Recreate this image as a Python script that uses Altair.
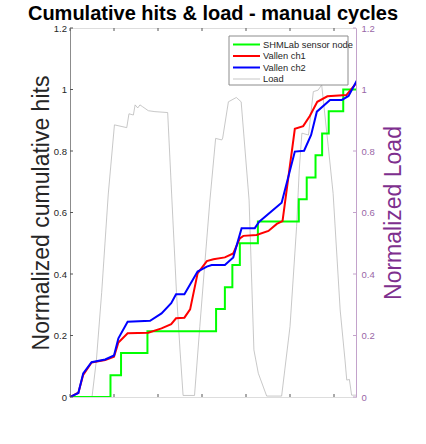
import altair as alt
import pandas as pd

# Cumulative hit counts (normalised) for each acquisition channel
green_t = [1100, 1192, 1216, 1276, 1432, 1452, 1469, 1486, 1527, 1620, 1638, 1658, 1673, 1688, 1721, 1750]
green_v = [0, 0.071, 0.143, 0.214, 0.286, 0.357, 0.429, 0.5, 0.571, 0.643, 0.714, 0.786, 0.857, 0.929, 1.0, 1.0]

red_t = [1100, 1119, 1130, 1149, 1180, 1200, 1210, 1231, 1278, 1308, 1330, 1341, 1360, 1373, 1390, 1411,
         1426, 1452, 1471, 1486, 1494, 1524, 1551, 1570, 1583, 1611, 1630, 1645, 1662, 1685, 1728, 1752]
red_v = [0, 0.014, 0.072, 0.112, 0.120, 0.131, 0.177, 0.207, 0.209, 0.223, 0.237, 0.256, 0.258, 0.285, 0.402, 0.442,
         0.448, 0.454, 0.467, 0.516, 0.524, 0.527, 0.540, 0.563, 0.572, 0.872, 0.881, 0.914, 0.960, 0.978, 0.982, 1.023]

blue_t = [1100, 1119, 1130, 1149, 1180, 1200, 1210, 1231, 1282, 1308, 1330, 1341, 1360, 1390, 1411,
          1422, 1452, 1471, 1490, 1520, 1530, 1581, 1611, 1632, 1648, 1661, 1691, 1718, 1733, 1752]
blue_v = [0, 0.013, 0.077, 0.113, 0.122, 0.135, 0.191, 0.245, 0.248, 0.272, 0.305, 0.334, 0.334, 0.408, 0.424,
          0.429, 0.429, 0.454, 0.549, 0.549, 0.570, 0.632, 0.798, 0.801, 0.852, 0.928, 0.966, 0.966, 0.979, 1.029]

# Normalised load signal (three manual cycles)
load_t = [1100, 1150, 1160, 1172, 1187, 1201, 1229, 1234, 1244, 1248, 1254, 1259, 1265, 1278, 1293, 1322,
          1331, 1342, 1350, 1357, 1383, 1395, 1407, 1418, 1431, 1445, 1447, 1460, 1478, 1489, 1507, 1518,
          1528, 1547, 1581, 1600, 1615, 1621, 1627, 1642, 1653, 1664, 1672, 1687, 1698, 1714, 1725, 1729,
          1735, 1740, 1750]
load_v = [0, 0, 0.12, 0.34, 0.66, 0.885, 0.876, 0.921, 0.917, 0.950, 0.940, 0.950, 0.944, 0.931, 0.928, 0.925,
          0.66, 0.34, 0.153, 0.005, 0.005, 0.229, 0.445, 0.64, 0.841, 0.836, 0.842, 0.960, 0.974, 0.960, 0.64, 0.153,
          0.077, 0.003, 0.003, 0.229, 0.554, 0.738, 0.858, 0.852, 0.993, 0.998, 1.015, 0.814, 0.662, 0.283, 0.12, 0.055,
          0.057, 0.006, 0.006]

x_ticks = [1100, 1200, 1300, 1400, 1500, 1600, 1700]
y_ticks = [0, 0.2, 0.4, 0.6, 0.8, 1.0, 1.2]

series_names = ["SHMLab sensor node", "Vallen ch1", "Vallen ch2", "Load"]
series_colors = ["#00FF00", "#FF0000", "#0000FF", "#B0B0B0"]
series_widths = [2, 2, 2, 0.7]
chart_title = "Cumulative hits & load - manual cycles"

FONT = "Liberation Sans"
TXT = "#262626"
PURPLE = "#7E2F8E"
PURPLE_LIGHT = "#C3A2CB"
PURPLE_LABEL = "#9966A6"
W, H = 286, 369


def frame(t, v, name):
    return pd.DataFrame({"t": t, "v": v, "series": name})


x_scale = alt.Scale(domain=[1100, 1750], nice=False, zero=False)
y_scale = alt.Scale(domain=[0, 1.2], nice=False, zero=False)

color = alt.Color("series:N", scale=alt.Scale(domain=series_names, range=series_colors), legend=None)
swidth = alt.StrokeWidth("series:N", scale=alt.Scale(type="ordinal", domain=series_names, range=series_widths),
                         legend=None)

x_axis = alt.Axis(
    title="Time [s]", values=x_ticks, format="d", grid=False, ticks=False, tickSize=0,
    labelFont=FONT, labelFontSize=9.5, labelColor=TXT, labelPadding=6, labelFlush=False,
    domainColor="#8C8C8C", titleFont=FONT, titleFontSize=23, titleFontWeight="normal", titleColor=TXT,
    titleX=W / 2, titleY=40, titleBaseline="alphabetic",
)
left_axis = alt.Axis(
    orient="left", title="Normalized cumulative hits", values=y_ticks, format="~g", grid=False,
    ticks=False, tickSize=0, labelFont=FONT, labelFontSize=9.5, labelColor=TXT, labelPadding=3.5,
    domainColor="#8C8C8C", titleFont=FONT, titleFontSize=23, titleFontWeight="normal", titleColor=TXT,
    titleAngle=270, titleX=-22, titleY=H / 2, titleBaseline="alphabetic", titleAlign="center",
)
right_axis = alt.Axis(
    orient="right", title="Normalized Load", values=y_ticks, format="~g", grid=False,
    ticks=False, tickSize=0, labelFont=FONT, labelFontSize=9.5, labelColor=PURPLE_LABEL, labelPadding=5,
    domainColor=PURPLE_LIGHT, titleFont=FONT, titleFontSize=23, titleFontWeight="normal", titleColor=PURPLE,
    titleAngle=270, titleX=44, titleY=H / 2, titleBaseline="alphabetic", titleAlign="center",
)

# right-hand axis: load signal
load_line = alt.Chart(frame(load_t, load_v, "Load")).mark_line(clip=True).encode(
    x=alt.X("t:Q", scale=x_scale, axis=x_axis),
    y=alt.Y("v:Q", scale=y_scale, axis=right_axis),
    color=color, strokeWidth=swidth,
)
right_ticks = alt.Chart(pd.DataFrame({"v": y_ticks})).mark_rule(color=PURPLE_LIGHT).encode(
    y=alt.Y("v:Q", scale=y_scale, axis=right_axis), x=alt.value(W - 3), x2=alt.value(W),
)


def hits_line(t, v, name, interp):
    return alt.Chart(frame(t, v, name)).mark_line(clip=True, interpolate=interp).encode(
        x=alt.X("t:Q", scale=x_scale, axis=None),
        y=alt.Y("v:Q", scale=y_scale, axis=left_axis),
        color=color, strokeWidth=swidth,
    )


# inward-pointing tick marks on all four sides
xt = pd.DataFrame({"t": x_ticks})
yt = pd.DataFrame({"v": y_ticks})
bottom_ticks = alt.Chart(xt).mark_rule(color="#555555").encode(
    x=alt.X("t:Q", scale=x_scale, axis=None), y=alt.value(H), y2=alt.value(H - 3))
top_ticks = alt.Chart(xt).mark_rule(color="#555555").encode(
    x=alt.X("t:Q", scale=x_scale, axis=None), y=alt.value(0), y2=alt.value(3))
left_ticks = alt.Chart(yt).mark_rule(color="#555555").encode(
    y=alt.Y("v:Q", scale=y_scale, axis=left_axis), x=alt.value(0), x2=alt.value(3))

# boxed legend in the top-right corner
LEG_X0, LEG_X1, LEG_Y0, LEG_Y1 = 159, 278, 8, 57
legend_src = alt.Chart(pd.DataFrame({"series": series_names})).transform_window(
    idx="row_number()"
).transform_calculate(ly="16.5 + (datum.idx - 1) * 11.5")
legend_box = alt.Chart(pd.DataFrame({"k": [0]})).mark_rect(
    fill="white", stroke="#8C8C8C", strokeWidth=1
).encode(x=alt.value(LEG_X0), x2=alt.value(LEG_X1), y=alt.value(LEG_Y0), y2=alt.value(LEG_Y1))
legend_lines = legend_src.mark_rule().encode(
    x=alt.value(163), x2=alt.value(190), y=alt.Y("ly:Q", scale=None),
    color=color, strokeWidth=swidth,
)
legend_text = legend_src.mark_text(
    align="left", baseline="middle", font=FONT, fontSize=9.3, color=TXT
).encode(x=alt.value(193), y=alt.Y("ly:Q", scale=None), text="series:N")

title_mark = alt.Chart(pd.DataFrame({"label": [chart_title]})).mark_text(
    align="center", baseline="alphabetic", font=FONT, fontSize=20, fontWeight="bold", color="black"
).encode(x=alt.value(W / 2), y=alt.value(-8.5), text="label:N")

right_group = alt.layer(load_line, right_ticks)
left_group = alt.layer(
    hits_line(green_t, green_v, "SHMLab sensor node", "step-after"),
    hits_line(red_t, red_v, "Vallen ch1", "linear"),
    hits_line(blue_t, blue_v, "Vallen ch2", "linear"),
    bottom_ticks, top_ticks, left_ticks,
)
overlay_group = alt.layer(legend_box, legend_lines, legend_text, title_mark)

chart = alt.layer(right_group, left_group, overlay_group).resolve_scale(y="independent").properties(
    width=W, height=H,
    autosize=alt.AutoSizeParams(type="none"),
    padding={"left": 70, "top": 28, "right": 70, "bottom": 47},
).configure_view(stroke="#8C8C8C", strokeWidth=1).configure(background="white")

chart.save("out.html", embed_options={"renderer": "svg", "actions": False})
